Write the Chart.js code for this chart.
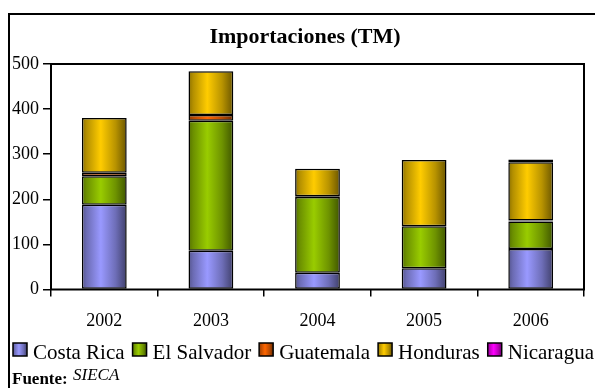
<!DOCTYPE html>
<html>
<head>
<meta charset="utf-8">
<script src="https://cdn.jsdelivr.net/npm/chart.js@4.4.1/dist/chart.umd.min.js"></script>
<style>
    html, body { margin: 0; padding: 0; background: #fff; }
</style>
</head>
<body>
<canvas id="importChart" width="595" height="388"></canvas>
<script>
/** --------------------IMPORTACIONES (TM) 2002-2006-------------------- */

const years = ['2002', '2003', '2004', '2005', '2006'];
const costaRica = [188, 86, 37, 47, 90];
const elSalvador = [63, 288, 168, 93, 61];
const guatemala = [8, 13, 2, 0, 2];
const honduras = [121, 97, 61, 147, 129];
const nicaragua = [0, 0, 0, 0, 6];
const yTicks = [0, 100, 200, 300, 400, 500];

const countries = ['Costa Rica', 'El Salvador', 'Guatemala', 'Honduras', 'Nicaragua'];
const baseColors = ['#9999FF', '#99CC00', '#FF6600', '#FFCC00', '#FF00FF'];

const serif = "'Liberation Serif', 'Times New Roman', serif";
const BAR_FRACTION = 0.42;

Chart.defaults.font.family = serif;
Chart.defaults.color = '#000';

function shade(hex, f) {
    let r = parseInt(hex.slice(1, 3), 16);
    let g = parseInt(hex.slice(3, 5), 16);
    let b = parseInt(hex.slice(5, 7), 16);
    return `rgb(${Math.round(r * f)},${Math.round(g * f)},${Math.round(b * f)})`;
}

// cylinder-like shading: dark edges, bright band left of centre
function barGradient(ctx, left, right, hex) {
    const grad = ctx.createLinearGradient(left, 0, right, 0);
    [[0, 0.55], [0.1, 0.7], [0.42, 1], [0.75, 0.72], [1, 0.42]].forEach(([p, f]) => {
        grad.addColorStop(p, shade(hex, f));
    });
    return grad;
}

function fillFor(hex) {
    return function (c) {
        const xs = c.chart.scales.x;
        if (!xs || c.dataIndex === undefined) {
            return hex;
        }
        const cx = xs.getPixelForValue(c.dataIndex);
        const half = xs.width / years.length * BAR_FRACTION / 2;
        if (!isFinite(cx) || !isFinite(half) || half <= 0) {
            return hex;
        }
        return barGradient(c.chart.ctx, cx - half, cx + half, hex);
    };
}

const seriesValues = [costaRica, elSalvador, guatemala, honduras, nicaragua];

const datasets = countries.map((name, i) => ({
    label: name,
    data: seriesValues[i],
    backgroundColor: fillFor(baseColors[i]),
    borderColor: '#000',
    borderWidth: 1.5,
    borderSkipped: false,
    categoryPercentage: 1,
    barPercentage: BAR_FRACTION
}));

const decorations = {
    id: 'decorations',
    afterDraw(chart) {
        const ctx = chart.ctx;
        const a = chart.chartArea;
        ctx.save();
        ctx.strokeStyle = '#000';
        ctx.lineWidth = 2;

        // plot box
        ctx.strokeRect(a.left, a.top, a.right - a.left, a.bottom - a.top);

        // outer frame (top and left edges)
        ctx.beginPath();
        ctx.moveTo(9, 388);
        ctx.lineTo(9, 14);
        ctx.lineTo(595, 14);
        ctx.stroke();

        ctx.fillStyle = '#000';
        ctx.textBaseline = 'alphabetic';

        // title
        ctx.font = `bold 22px ${serif}`;
        ctx.textAlign = 'center';
        ctx.fillText('Importaciones (TM)', 305, 43);

        // legend
        ctx.textAlign = 'left';
        ctx.font = `21px ${serif}`;
        let x = 13;
        countries.forEach((name, i) => {
            ctx.fillStyle = barGradient(ctx, x, x + 14, baseColors[i]);
            ctx.fillRect(x, 343, 14, 13);
            ctx.lineWidth = 1.5;
            ctx.strokeRect(x, 343, 14, 13);
            ctx.fillStyle = '#000';
            ctx.fillText(name, x + 20, 359);
            x += 20 + ctx.measureText(name).width + 8;
        });

        // source note
        ctx.font = `bold 17px ${serif}`;
        ctx.fillText('Fuente:', 12, 384);
        ctx.font = `italic 17px ${serif}`;
        ctx.fillText('SIECA', 73, 380);
        ctx.restore();
    }
};

const importChart = new Chart(document.getElementById('importChart').getContext('2d'), {
    type: 'bar',
    data: {
        labels: years,
        datasets: datasets
    },
    options: {
        responsive: false,
        animation: false,
        devicePixelRatio: 1,
        layout: {
            padding: {left: 0, top: 64, right: 11, bottom: 0}
        },
        scales: {
            x: {
                stacked: true,
                grid: {
                    offset: true,
                    drawOnChartArea: false,
                    tickLength: 7,
                    color: '#000',
                    lineWidth: 1.5
                },
                border: {display: false},
                ticks: {
                    font: {size: 18},
                    padding: 14,
                    color: '#000'
                },
                afterFit: function (scale) {
                    scale.height = 98.5;
                }
            },
            y: {
                stacked: true,
                min: 0,
                max: 500,
                grid: {
                    drawOnChartArea: false,
                    tickLength: 8,
                    color: '#000',
                    lineWidth: 1.5
                },
                border: {display: false},
                ticks: {
                    font: {size: 18},
                    padding: 4,
                    color: '#000'
                },
                afterBuildTicks: function (scale) {
                    scale.ticks = yTicks.map(v => ({value: v}));
                },
                afterFit: function (scale) {
                    scale.width = 51;
                }
            }
        },
        plugins: {
            legend: {display: false},
            title: {display: false},
            tooltip: {enabled: false}
        }
    },
    plugins: [decorations]
});

/** --------------------END IMPORTACIONES-------------------- */
</script>
</body>
</html>
